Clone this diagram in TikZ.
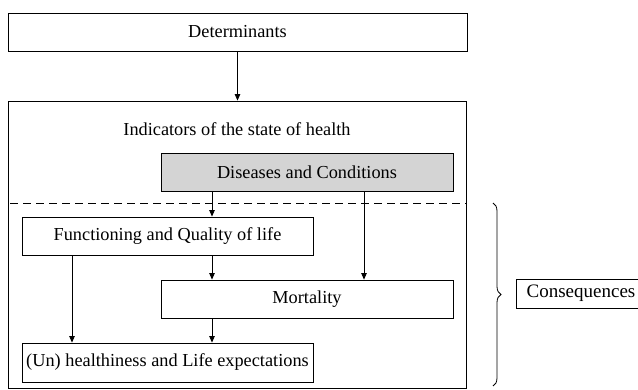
\documentclass[tikz,border=0pt]{standalone}
\usepackage{fontspec}
\setmainfont{Liberation Serif}
\usetikzlibrary{arrows.meta,decorations.pathreplacing}
\begin{document}
\begin{tikzpicture}[x=1pt,y=-1pt,
  every node/.style={font=\fontsize{18.3}{22}\selectfont, inner sep=0pt},
  box/.style={draw, line width=0.8pt, minimum width=#1, minimum height=38pt},
  conn/.style={line width=0.8pt, -{Triangle[length=6.5pt,width=5.5pt]}},
  plain/.style={line width=0.8pt}]
\useasboundingbox (0,0) rectangle (638,390);
\begin{scope}
\clip (0,0) rectangle (638,390);
\node[box=459pt] (det) at (237.5,32) {Determinants};
\node[draw, line width=0.8pt, minimum width=458pt, minimum height=287pt] (big) at (237,244.5) {};
\node (ind) at (237,129) {Indicators of the state of health};
\node[box=292pt, fill={rgb,255:red,212;green,212;blue,212}] (dis) at (307,172) {Diseases and Conditions};
\node[box=291pt] (func) at (167.5,236) {Functioning and Quality of life};
\node[box=292pt] (mort) at (307,299) {Mortality};
\node[box=291pt, minimum height=39pt] (un) at (167.5,362.5) {(Un) healthiness and Life expectations};
\node[draw, line width=0.8pt, minimum width=130pt, minimum height=29pt, font=\fontsize{19}{22}\selectfont] (cons) at (581,293.5) {Consequences};
\coordinate (c1) at (212,0);
\coordinate (c2) at (364,0);
\coordinate (c3) at (72,0);
\coordinate (dl) at (10,203);
\coordinate (dr) at (466,203);
\coordinate (bt) at (493,203);
\coordinate (bb) at (493,386);
\draw[conn] (det) -- (big.north -| det);
\draw[plain, dashed, dash pattern=on 8pt off 5pt] (dl) -- (dr);
\draw[conn] (dis.south -| c1) -- (func.north -| c1);
\draw[conn] (dis.south -| c2) -- (mort.north -| c2);
\draw[conn] (func.south -| c1) -- (mort.north -| c1);
\draw[conn] (func.south -| c3) -- (un.north -| c3);
\draw[conn] (mort.south -| c1) -- (un.north -| c1);
\draw[plain, decorate, decoration={brace, amplitude=8pt}] (bt) -- (bb);
\end{scope}
\end{tikzpicture}
\end{document}
